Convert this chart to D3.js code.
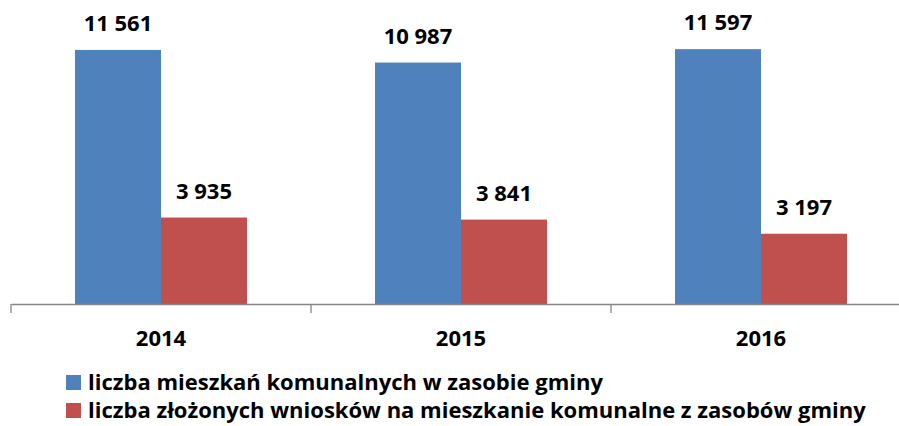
<!DOCTYPE html>
<html>
<head>
<meta charset="utf-8">
<script src="https://cdn.jsdelivr.net/npm/d3@7"></script>
<style>
  body { margin: 0; background: #fff; }
  text { font-family: "Open Sans", "DejaVu Sans", sans-serif; font-weight: bold; fill: #000; }
</style>
</head>
<body>
<div id="chart"></div>
<script>
// data
const years = ["2014", "2015", "2016"];
const seriesNames = [
  "liczba mieszkań komunalnych w zasobie gminy",
  "liczba złożonych wniosków na mieszkanie komunalne z zasobów gminy"
];
const flats = [11561, 10987, 11597];
const applications = [3935, 3841, 3197];
const colors = ["#4f81bd", "#c0504d"];

const width = 899, height = 426;
const fmt = v => d3.format(",")(v).replace(/,/g, " ");

const svg = d3.select("#chart").append("svg")
  .attr("width", width)
  .attr("height", height);

// x: categories of 300px starting at 11
const x = d3.scaleBand()
  .domain(years)
  .range([11, 911])
  .paddingInner(0)
  .paddingOuter(0);

const inner = d3.scaleBand()
  .domain(d3.range(seriesNames.length))
  .range([0, x.bandwidth()])
  .paddingOuter(0.744)
  .paddingInner(0);

const y = d3.scaleLinear()
  .domain([0, 12000])
  .range([304, 40.3]);

const rows = years.map((yr, i) => ({ year: yr, values: [flats[i], applications[i]] }));

const groups = svg.selectAll("g.year")
  .data(rows)
  .enter()
  .append("g")
  .attr("class", "year")
  .attr("transform", d => "translate(" + x(d.year) + ",0)");

groups.selectAll("rect")
  .data(d => d.values.map((v, s) => ({ v, s })))
  .enter()
  .append("rect")
  .attr("x", d => inner(d.s))
  .attr("width", inner.bandwidth())
  .attr("y", d => y(d.v))
  .attr("height", d => y(0) - y(d.v))
  .attr("fill", d => colors[d.s]);

groups.selectAll("text.val")
  .data(d => d.values.map((v, s) => ({ v, s })))
  .enter()
  .append("text")
  .attr("class", "val")
  .attr("x", d => inner(d.s) + inner.bandwidth() / 2)
  .attr("y", d => y(d.v) - 19)
  .attr("text-anchor", "middle")
  .style("font-size", "22px")
  .text(d => fmt(d.v));

// axis
const axis = svg.append("g")
  .attr("transform", "translate(0,304)")
  .call(d3.axisBottom(x).tickSizeOuter(0).tickSize(0).tickFormat(""));
axis.select(".domain").attr("stroke", "#868686").attr("stroke-width", 1.3);

// tick marks on category boundaries
svg.selectAll("line.tick")
  .data([11, 311, 611])
  .enter()
  .append("line")
  .attr("x1", d => d).attr("x2", d => d)
  .attr("y1", 304).attr("y2", 313)
  .attr("stroke", "#868686")
  .attr("stroke-width", 1.3);

svg.selectAll("text.cat")
  .data(years)
  .enter()
  .append("text")
  .attr("class", "cat")
  .attr("x", d => x(d) + x.bandwidth() / 2)
  .attr("y", 346)
  .attr("text-anchor", "middle")
  .style("font-size", "22px")
  .text(d => d);

// legend
const legend = svg.selectAll("g.legend")
  .data(seriesNames)
  .enter()
  .append("g")
  .attr("class", "legend")
  .attr("transform", (d, i) => "translate(66," + (375 + i * 28) + ")");

legend.append("rect")
  .attr("width", 15)
  .attr("height", 15)
  .attr("fill", (d, i) => colors[i]);

legend.append("text")
  .attr("x", 22)
  .attr("y", 15)
  .style("font-size", "22px")
  .text(d => d);
</script>
</body>
</html>
